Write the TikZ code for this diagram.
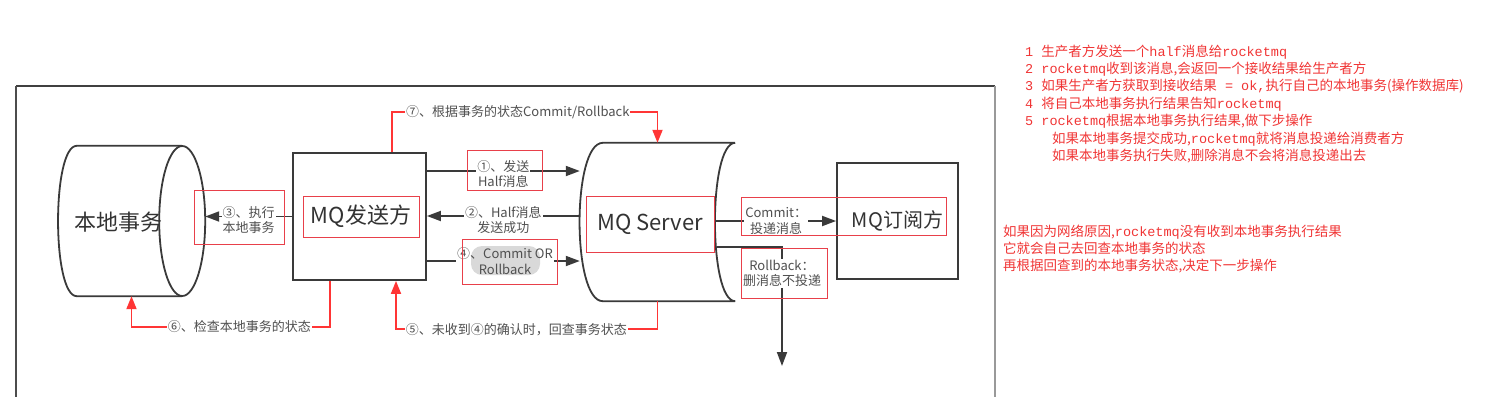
\documentclass[tikz,border=0pt]{standalone}
\usepackage{fontspec}
\setmainfont{Noto Sans CJK SC}
\setmonofont{Liberation Mono}
\usepackage{tikz}
\usetikzlibrary{
  arrows.meta,
  shapes.geometric,
  positioning,
  calc
}
\definecolor{mqLine}{HTML}{3A3A3A}
\definecolor{mqText}{HTML}{333333}
\definecolor{mqLabel}{HTML}{505050}
\definecolor{mqRed}{HTML}{FF3535}
\definecolor{mqMark}{HTML}{E8404A}
\definecolor{mqNote}{HTML}{F03434}
\definecolor{mqHilite}{HTML}{D9D9D9}
\tikzset{
  mqnode/.style={draw=mqLine, line width=1.8pt, fill=white, text=mqText},
  sidebox/.style={mqnode, rectangle},
  bigtext/.style={font=\fontsize{22}{26}\selectfont, text=mqText},
  lbl/.style={font=\fontsize{13}{15.5}\selectfont, text=mqLabel, align=center, inner sep=1pt},
  onlbl/.style={lbl, fill=white},
  markbox/.style={draw=mqMark, line width=1pt, rectangle, inner sep=0pt},
  flow/.style={-{Triangle[length=14pt, width=10pt]}, line width=1.8pt, mqLine},
  plainline/.style={line width=1.8pt, mqLine},
  redflow/.style={-{Triangle[length=13pt, width=10pt]}, line width=1.8pt, mqRed},
  notetext/.style={font=\fontsize{13.5}{17.4}\selectfont, text=mqNote, inner sep=0pt},
  pageframe/.style={line width=1.6pt, black!70}
}

\begin{document}
\begin{tikzpicture}[x=1pt, y=-1pt]
  \useasboundingbox (0,0) rectangle (1492,408);
  % frame of the screenshot
  \draw[pageframe, line width=2.6pt, black!75] (16,86) -- (995,86);
  \draw[pageframe] (16,86) -- (16,397);
  \draw[pageframe, black!40] (995,86) -- (995,397);

  % local transaction (lying cylinder)
  \node[minimum width=147pt, minimum height=150pt, inner sep=0pt] (local) at (131.5,221) {};
  \draw[plainline] ([xshift=124pt]local.north west) -- ([xshift=19pt]local.north west)
    .. controls ([xshift=-6pt]local.north west) and ([xshift=-6pt]local.south west) .. ([xshift=19pt]local.south west)
    -- ([xshift=124pt]local.south west);
  \draw[plainline] ([xshift=-23pt]local.east) ellipse [x radius=23pt, y radius=75pt];
  \node[bigtext] (localText) at (118,222) {本地事务};

  % producer
  \node[sidebox, minimum width=133pt, minimum height=127pt] (sender) at (359.5,216.5) {};
  \node[markbox, bigtext, minimum width=116pt, minimum height=41pt] (senderTag) at (361,216.5) {MQ发送方};

  % broker
  \node[minimum width=155pt, minimum height=158pt, inner sep=0pt] (server) at (657.5,222) {};
  \draw[plainline] (server.north east) -- ([xshift=23pt]server.north west)
    .. controls ([xshift=-8pt]server.north west) and ([xshift=-8pt]server.south west) .. ([xshift=23pt]server.south west)
    -- (server.south east)
    .. controls ([xshift=-27pt]server.south east) and ([xshift=-27pt]server.north east) .. (server.north east);
  \node[markbox, bigtext, minimum width=128pt, minimum height=56pt] (serverTag) at (650,224) {MQ Server};

  % consumer
  \node[sidebox, minimum width=121pt, minimum height=116pt, font=\fontsize{20}{24}\selectfont] (sub) at (897.5,221) {MQ订阅方};

  % sender <-> server
  \draw[flow] (sender.east |- 0,171) -- node[onlbl, yshift=-3pt] {①、发送\\Half消息} (server.west |- 0,171);
  \draw[flow] (server.west |- 0,216) -- node[onlbl, yshift=-4pt] {②、Half消息\\发送成功} (sender.east |- 0,216);
  \node[fill=mqHilite, rounded corners=11pt, minimum width=69pt, minimum height=29pt] (hilite) at (505.5,260.5) {};
  \node[lbl] (commitLbl) at (505,261) {④、Commit OR\\Rollback};
  \draw[plainline] (sender.east |- commitLbl.west) -- (commitLbl.west);
  \draw[flow] (commitLbl.east) -- (server.west |- commitLbl.east);

  % sender -> local
  \draw[flow] (sender.west) -- node[onlbl, yshift=-3.5pt] {③、执行\\本地事务} (sender.west -| local.east);

  % server -> consumer
  \draw[flow] ([xshift=-19pt]server.east |- sub.west) -- node[onlbl] {Commit：\\投递消息} (sub.west);
  \coordinate (drop) at (782,366);
  \draw[flow] ([xshift=-18pt]server.east |- 0,247) -| node[onlbl, pos=0.61] {Rollback：\\删消息不投递} (drop);

  % red loops
  \draw[redflow] ([xshift=32.5pt]sender.north) -- ++(0,-40) -| node[onlbl, pos=0.237] {⑦、根据事务的状态Commit/Rollback} (server.north);
  \draw[redflow] (server.south) -- ++(0,28) -| node[onlbl, pos=0.27] {⑤、未收到④的确认时，回查事务状态} ([xshift=36.5pt]sender.south);
  \draw[redflow] ([xshift=-29.5pt]sender.south) -- ++(0,46) -| node[onlbl, pos=0.228] {⑥、检查本地事务的状态} (local.south);

  % red marks
  \node[markbox, minimum width=90pt, minimum height=54pt] (markExec) at (239,217) {};
  \node[markbox, minimum width=75pt, minimum height=40pt] (markHalf) at (504.5,170) {};
  \node[markbox, minimum width=95pt, minimum height=45pt] (markCommit) at (509.5,261.5) {};
  \node[markbox, minimum width=205pt, minimum height=38pt] (markSub) at (843.5,216) {};
  \node[markbox, minimum width=86pt, minimum height=50pt] (markRoll) at (784,273) {};

  % notes
  \foreach \i/\txt in {
    0/{\texttt{1 }生产者方发送一个\texttt{half}消息给\texttt{rocketmq}},
    1/{\texttt{2 rocketmq}收到该消息,会返回一个接收结果给生产者方},
    2/{\texttt{3 }如果生产者方获取到接收结果\texttt{ = ok,}执行自己的本地事务(操作数据库)},
    3/{\texttt{4 }将自己本地事务执行结果告知\texttt{rocketmq}},
    4/{\texttt{5 rocketmq}根据本地事务执行结果,做下步操作},
    5/{\hspace*{27pt}如果本地事务提交成功,\texttt{rocketmq}就将消息投递给消费者方},
    6/{\hspace*{27pt}如果本地事务执行失败,删除消息不会将消息投递出去}}{
    \node[notetext, anchor=base west] (step\i) at (1025,56+17.4*\i) {\txt};
  }
  \foreach \i/\txt in {
    0/{如果因为网络原因,\texttt{rocketmq}没有收到本地事务执行结果},
    1/{它就会自己去回查本地事务的状态},
    2/{再根据回查到的本地事务状态,决定下一步操作}}{
    \node[notetext, anchor=base west] (check\i) at (1003,236+17.4*\i) {\txt};
  }
\end{tikzpicture}
\end{document}
